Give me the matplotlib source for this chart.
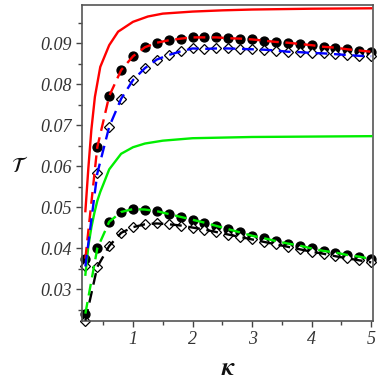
import numpy as np
import matplotlib
matplotlib.use("Agg")
import matplotlib.pyplot as plt
from matplotlib.ticker import MultipleLocator, FixedLocator

plt.rcParams["mathtext.fontset"] = "stix"

# kappa grid for the sampled points
kappa = [0.2, 0.4, 0.6, 0.8, 1.0, 1.2, 1.4, 1.6, 1.8, 2.0, 2.2, 2.4, 2.6,
         2.8, 3.0, 3.2, 3.4, 3.6, 3.8, 4.0, 4.2, 4.4, 4.6, 4.8, 5.0]

# upper pair
upper_circ = [0.0374, 0.0646, 0.0771, 0.0834, 0.0868, 0.0890, 0.0901, 0.0907,
              0.0911, 0.0914, 0.0914, 0.0914, 0.0912, 0.0911, 0.0909, 0.0906,
              0.0903, 0.0901, 0.0898, 0.0895, 0.0891, 0.0889, 0.0885, 0.0882,
              0.0879]
upper_diam = [0.0355, 0.0582, 0.0696, 0.0764, 0.0810, 0.0839, 0.0860, 0.0871,
              0.0880, 0.0887, 0.0886, 0.0887, 0.0887, 0.0886, 0.0885, 0.0884,
              0.0882, 0.0879, 0.0878, 0.0876, 0.0875, 0.0873, 0.0871, 0.0869,
              0.0868]

# lower pair
lower_circ = [0.0240, 0.0399, 0.0464, 0.0488, 0.0495, 0.0494, 0.0490, 0.0483,
              0.0476, 0.0469, 0.0462, 0.0454, 0.0446, 0.0438, 0.0430, 0.0424,
              0.0417, 0.0411, 0.0406, 0.0399, 0.0393, 0.0389, 0.0383, 0.0379,
              0.0373]
lower_diam = [0.0223, 0.0354, 0.0405, 0.0437, 0.0451, 0.0458, 0.0460, 0.0458,
              0.0455, 0.0450, 0.0445, 0.0439, 0.0433, 0.0427, 0.0421, 0.0415,
              0.0409, 0.0403, 0.0397, 0.0391, 0.0386, 0.0380, 0.0375, 0.0370,
              0.0365]

# saturating solid curves
red_x = [0.2, 0.25, 0.3, 0.36, 0.45, 0.6, 0.75, 1.0, 1.25, 1.5, 2.0, 2.5,
         3.0, 4.0, 5.0]
red_y = [0.0490, 0.0595, 0.0688, 0.0769, 0.0842, 0.0895, 0.0928, 0.0952,
         0.0965, 0.0972, 0.0977, 0.0980, 0.0982, 0.0984, 0.0985]

green_x = [0.2, 0.25, 0.3, 0.35, 0.4, 0.45, 0.5, 0.6, 0.8, 1.0, 1.2, 1.5,
           2.0, 3.0, 4.0, 5.0]
green_y = [0.0335, 0.0405, 0.0450, 0.0485, 0.0515, 0.0537, 0.0555, 0.0592,
           0.0630, 0.0646, 0.0655, 0.0662, 0.0668, 0.0671, 0.0672, 0.0673]

yticks = [0.03, 0.04, 0.05, 0.06, 0.07, 0.08, 0.09]
xticks = [1, 2, 3, 4, 5]

RED = "#ff0000"
BLUE = "#0000ff"
GREEN = "#00ee00"

fig = plt.figure(figsize=(3.86, 3.86), dpi=100)
ax = fig.add_axes([0.2124, 0.1684, 0.7539, 0.8186])

lw = 1.7
dash = (5, 2.8)

ax.plot(red_x, red_y, color=RED, lw=lw, zorder=3)
ax.plot(green_x, green_y, color=GREEN, lw=lw, zorder=3)

# markers below the dashed lines
ax.plot(kappa, upper_circ, "o", ms=6.4, color="black", zorder=2, clip_on=False)
ax.plot(kappa, lower_circ, "o", ms=6.4, color="black", zorder=2, clip_on=False)
ax.plot(kappa, upper_diam, "D", ms=5.2, mfc="white", mec="black", mew=0.9,
        zorder=2, clip_on=False)
ax.plot(kappa, lower_diam, "D", ms=5.2, mfc="white", mec="black", mew=0.9,
        zorder=2, clip_on=False)

ax.plot(kappa, upper_circ, color=RED, lw=lw, dashes=dash, zorder=4)
ax.plot(kappa, upper_diam, color=BLUE, lw=lw, dashes=dash, zorder=4)
ax.plot(kappa, lower_circ, color=GREEN, lw=lw, dashes=dash, zorder=4)
ax.plot(kappa, lower_diam, color="black", lw=lw, dashes=dash, zorder=3.5)

ax.set_xlim(0.143, 5.03)
ax.set_ylim(0.0222, 0.0993)

ax.xaxis.set_major_locator(FixedLocator(xticks))
ax.xaxis.set_minor_locator(MultipleLocator(0.5))
ax.yaxis.set_major_locator(FixedLocator(yticks))
ax.yaxis.set_minor_locator(MultipleLocator(0.005))
ax.set_xticklabels([str(v) for v in xticks])
ax.set_yticklabels(["%.2f" % v for v in yticks])

for lab in ax.get_xticklabels() + ax.get_yticklabels():
    lab.set_fontfamily("Liberation Serif")
    lab.set_fontstyle("italic")
    lab.set_fontsize(13)
    lab.set_color("#333333")

ax.tick_params(which="major", direction="out", length=4, width=1,
               color="#444444", pad=3)
ax.tick_params(which="minor", direction="out", length=3, width=1,
               color="#444444")

for sp in ax.spines.values():
    sp.set_color("#555555")
    sp.set_linewidth(1.2)

fig.text(0.591, 0.047, r"$\boldsymbol{\kappa}$", fontsize=18,
         ha="center", va="center", color="#111111")
fig.text(0.052, 0.57, r"$\mathcal{T}$", fontsize=15,
         ha="center", va="center", color="#111111")

fig.savefig("out.png", dpi=100)
